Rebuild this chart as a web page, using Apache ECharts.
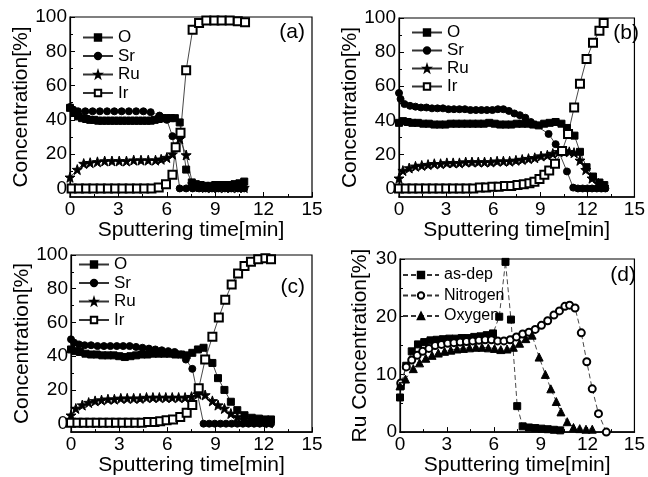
<!DOCTYPE html>
<html>
<head>
<meta charset="utf-8">
<title>Sputtering depth profiles</title>
<script src="https://cdn.jsdelivr.net/npm/echarts@6.0.0/dist/echarts.min.js"></script>
<style>
  html, body { margin: 0; padding: 0; background: #fff; }
  #chart { width: 648px; height: 477px; }
</style>
</head>
<body>
<div id="chart"></div>
<script>
// [time (min), concentration (%)]
const aO = [[0, 47], [0.25, 44], [0.5, 42], [0.75, 41], [1, 40.5], [1.25, 40], [1.5, 40], [1.75, 39.5], [2, 39.5], [2.25, 39.5], [2.5, 39.5], [2.75, 39.5], [3, 39.5], [3.25, 39.5], [3.5, 39.5], [3.75, 39.5], [4, 39.5], [4.25, 39.5], [4.5, 39.5], [4.75, 39.5], [5, 39.5], [5.25, 40], [5.5, 40.5], [5.75, 41], [6, 41], [6.25, 41], [6.5, 41], [6.8, 38.5], [7.2, 11], [7.55, 3.5], [7.8, 2.5], [8.1, 2], [8.4, 1.5], [8.7, 1.5], [9, 2], [9.3, 2], [9.6, 2], [9.9, 2], [10.2, 2.5], [10.5, 3], [10.8, 4]]
const aSr = [[0, 47.5], [0.2, 46], [0.5, 45], [0.95, 45], [1.4, 45], [1.85, 45], [2.3, 45], [2.75, 45], [3.2, 45], [3.65, 45], [4.1, 45], [4.55, 45], [5, 44.5], [5.55, 42.5], [6, 40], [6.35, 30.5], [6.8, 0], [7.2, 0], [7.6, 0], [8, 0], [8.4, 0], [8.8, 0], [9.2, 0], [9.6, 0], [10, 0], [10.4, 0], [10.8, 0]]
const aRu = [[0, 6.5], [0.45, 11], [0.85, 14.5], [1.25, 15], [1.7, 15.5], [2.15, 16], [2.6, 16], [3.05, 16], [3.5, 16], [3.95, 16.5], [4.4, 16.5], [4.85, 16.5], [5.3, 16.5], [5.65, 17], [6, 18], [6.35, 20], [6.8, 29], [7.2, 19.5], [7.6, 2.5], [8, 1], [8.4, 0.5], [8.8, 0.5], [9.2, 0.5], [9.6, 0.5], [10, 0.5], [10.4, 0.5], [10.8, 0.5]]
const aIr = [[0.1, 0], [0.55, 0], [1, 0], [1.45, 0], [1.9, 0], [2.35, 0], [2.8, 0], [3.25, 0], [3.7, 0], [4.15, 0], [4.6, 0], [5.05, 0], [5.5, 0.5], [5.95, 2.5], [6.35, 8], [6.55, 24], [6.85, 32.5], [7.2, 69], [7.6, 92.5], [8, 96.5], [8.45, 98], [8.95, 98], [9.4, 98], [9.9, 98], [10.4, 97.5], [10.85, 97]]

const bO = [[0, 38.5], [0.25, 39.5], [0.55, 39], [0.85, 38.5], [1.2, 38.5], [1.55, 38], [1.9, 38], [2.25, 37.5], [2.6, 37.5], [2.95, 37.5], [3.3, 38], [3.65, 38], [4, 38], [4.35, 38], [4.7, 38], [5.05, 38], [5.4, 38], [5.75, 38.5], [6.1, 38], [6.45, 37.5], [6.8, 37.5], [7.15, 37.5], [7.5, 38], [7.85, 38], [8.2, 38], [8.55, 37.5], [8.9, 37], [9.25, 38], [9.6, 38.5], [9.98, 39], [10.35, 38], [10.7, 35.5], [11.18, 31], [11.53, 21.5], [11.95, 12.5], [12.36, 7], [12.77, 3.5], [13.08, 2]]
const bSr = [[0, 56], [0.1, 52.5], [0.35, 49.5], [0.7, 48.5], [1.05, 48], [1.4, 47.5], [1.75, 47.5], [2.1, 47], [2.45, 47], [2.8, 47], [3.15, 46.5], [3.5, 46.5], [3.85, 46.5], [4.2, 46.5], [4.55, 46], [4.9, 46], [5.25, 46], [5.6, 46], [5.95, 46], [6.3, 46.5], [6.65, 46.5], [7, 45.5], [7.35, 44], [7.7, 43], [8.05, 41.5], [8.4, 39], [9.53, 32], [9.98, 26], [10.7, 10], [11.1, 0.5], [11.4, 0], [11.7, 0], [12, 0], [12.3, 0], [12.6, 0], [12.9, 0], [13.15, 0]]
const bRu = [[0, 6], [0.25, 10.5], [0.65, 12], [1.05, 13], [1.45, 13.5], [1.85, 14], [2.25, 14.5], [2.65, 14.5], [3.05, 15], [3.45, 15], [3.85, 15], [4.25, 15.5], [4.65, 15.5], [5.05, 15.5], [5.45, 15.5], [5.85, 15.5], [6.25, 16], [6.65, 16], [7.05, 16], [7.45, 16.5], [7.85, 17], [8.25, 17.5], [8.65, 18], [9.05, 19], [9.45, 19.5], [9.8, 20.5], [10.2, 21.5], [10.55, 22], [10.85, 21.5], [11.15, 21], [11.53, 16.5], [11.9, 11], [12.3, 6], [12.7, 3], [13.05, 1]]
const bIr = [[0, 0], [0.43, 0], [0.86, 0], [1.29, 0], [1.72, 0], [2.15, 0], [2.58, 0], [3.01, 0], [3.44, 0], [3.87, 0], [4.3, 0], [4.73, 0], [5.15, 0.5], [5.55, 0.5], [5.95, 1], [6.35, 1], [6.75, 1.5], [7.15, 1.5], [7.55, 2], [7.95, 2.5], [8.31, 3], [8.63, 4], [8.95, 5.5], [9.26, 8], [9.57, 10.5], [9.94, 14.5], [10.39, 22], [10.77, 32], [11.16, 47.5], [11.53, 61.5], [11.95, 76], [12.36, 85.5], [12.77, 92.5], [13.04, 97]]

const cO = [[0, 44], [0.25, 43], [0.55, 42.5], [0.9, 41.5], [1.25, 41], [1.6, 41], [1.95, 40.5], [2.3, 40.5], [2.65, 40.5], [3, 40], [3.35, 39.5], [3.7, 40], [4.05, 40.5], [4.4, 41], [4.75, 41], [5.1, 41.5], [5.45, 41.5], [5.8, 41.5], [6.15, 41.5], [6.5, 41], [6.85, 41], [7.2, 40.5], [7.55, 42], [7.9, 44], [8.25, 45], [8.8, 36], [9.15, 27], [9.55, 20], [9.95, 13], [10.35, 8], [10.8, 5], [11.25, 3.5], [11.7, 3], [12.1, 2.5], [12.45, 2.5]]
const cSr = [[0, 50], [0.2, 48], [0.5, 47], [0.85, 46.5], [1.25, 46.5], [1.65, 46], [2.05, 46], [2.45, 46], [2.85, 46], [3.25, 46], [3.65, 46], [4.05, 45.5], [4.45, 45], [4.85, 44.5], [5.25, 44], [5.65, 43.5], [6.05, 43], [6.45, 42.5], [6.85, 41], [7.15, 38], [7.55, 32.5], [8.25, 0], [8.6, 0], [8.95, 0], [9.3, 0], [9.65, 0], [10, 0], [10.35, 0], [10.7, 0], [11.05, 0], [11.4, 0], [11.75, 0], [12.1, 0], [12.45, 0]]
const cRu = [[0, 5], [0.3, 9], [0.7, 11], [1.1, 12.5], [1.5, 13.5], [1.9, 14], [2.3, 14.5], [2.7, 14.5], [3.1, 15], [3.5, 15], [3.9, 15], [4.3, 15], [4.7, 15.5], [5.1, 15.5], [5.5, 15.5], [5.9, 15.5], [6.3, 15.5], [6.7, 15.5], [7.1, 15.5], [7.5, 16], [7.9, 17.5], [8.35, 17], [8.8, 13.5], [9.15, 11], [9.55, 9], [9.95, 6], [10.35, 4], [10.75, 2.5], [11.15, 1.5], [11.55, 1], [11.95, 1], [12.35, 0.5]]
const cIr = [[0, 0.5], [0.4, 0.5], [0.8, 0.5], [1.2, 0.5], [1.6, 0.5], [2, 0.5], [2.4, 0.5], [2.8, 0.5], [3.2, 0.5], [3.6, 0.5], [4, 0.5], [4.4, 0.5], [4.8, 1], [5.2, 1], [5.55, 1.5], [5.95, 2], [6.35, 2.5], [6.8, 4], [7.2, 6.5], [7.55, 11], [7.95, 21], [8.35, 38], [8.8, 51.5], [9.2, 63], [9.6, 73.5], [10, 82.5], [10.4, 89], [10.8, 93.5], [11.2, 96], [11.65, 97.5], [12.1, 98], [12.45, 97.5]]

// Ru concentration by anneal condition
const dAsDep = [[0, 6], [0.05, 8], [0.4, 11.5], [0.75, 14], [1.15, 15.2], [1.55, 15.6], [1.95, 15.9], [2.35, 16], [2.75, 16.1], [3.15, 16.2], [3.55, 16.2], [3.95, 16.3], [4.35, 16.3], [4.75, 16.5], [5.15, 16.6], [5.55, 16.8], [5.95, 17.1], [6.35, 20], [6.75, 29.5], [7.1, 19.5], [7.5, 4.5], [7.85, 1], [8.25, 0.8], [8.65, 0.7], [9.05, 0.6], [9.45, 0.5], [9.85, 0.4], [10.25, 0.3]]
const dNitrogen = [[0.05, 8.5], [0.4, 11.3], [0.75, 12.5], [1.1, 13.3], [1.45, 14], [1.85, 14.5], [2.25, 15], [2.65, 15.2], [3.05, 15.4], [3.45, 15.5], [3.85, 15.6], [4.25, 15.7], [4.65, 15.8], [5.05, 15.9], [5.45, 16], [5.85, 16], [6.25, 15.8], [6.65, 15.8], [7.05, 16], [7.45, 16.5], [7.85, 17], [8.25, 17.3], [8.65, 17.8], [9.05, 18.5], [9.45, 19.3], [9.85, 20.3], [10.2, 21], [10.55, 21.8], [10.85, 22], [11.2, 21.5], [11.6, 17.2], [11.95, 12.2], [12.3, 7.5], [12.7, 3.2], [13.2, 0]]
const dOxygen = [[0, 8], [0.35, 9.2], [0.85, 11], [1.25, 12], [1.65, 12.8], [2.05, 13.3], [2.45, 13.7], [2.85, 14], [3.25, 14.2], [3.65, 14.4], [4.05, 14.5], [4.45, 14.6], [4.85, 14.7], [5.25, 14.7], [5.65, 14.6], [6.05, 14.5], [6.45, 14.3], [6.85, 14.4], [7.25, 14.7], [7.65, 15.4], [8.05, 16.2], [8.45, 16.8], [8.9, 13], [9.3, 10], [9.65, 7.5], [10, 5.3], [10.3, 3.5], [10.7, 1.8], [11.1, 0.8], [11.5, 0.6], [11.9, 0.5], [12.3, 0.5]]

const elements = ['O', 'Sr', 'Ru', 'Ir']
const anneals = ['as-dep', 'Nitrogen', 'Oxygen']
const panelLabels = ['(a)', '(b)', '(c)', '(d)']
const concTicks = [0, 20, 40, 60, 80, 100]
const concMinorTicks = [10, 30, 50, 70, 90]

const FONT = 'Liberation Sans, Arial, sans-serif'
const STAR = 'path://M0,-10L2.35,-3.24L9.51,-3.09L3.8,1.24L5.88,8.09L0,4L-5.88,8.09L-3.8,1.24L-9.51,-3.09L-2.35,-3.24Z'

const grids = [
  { left: 70, top: 17, width: 242, height: 180 },
  { left: 399, top: 18, width: 242, height: 179 },
  { left: 71, top: 255, width: 241, height: 178 },
  { left: 400, top: 259, width: 241, height: 177 }
]

const elemStyle = {
  O: { symbol: 'rect', symbolSize: 7 },
  Sr: { symbol: 'circle', symbolSize: 7 },
  Ru: { symbol: STAR, symbolSize: 10 },
  Ir: { symbol: 'emptyRect', symbolSize: 8 }
}
const annealStyle = {
  'as-dep': { symbol: 'rect', symbolSize: 7 },
  Nitrogen: { symbol: 'emptyCircle', symbolSize: 7 },
  Oxygen: { symbol: 'triangle', symbolSize: 8 }
}

function lineSeries (name, data, idx, style, dashed) {
  return {
    name: name,
    type: 'line',
    xAxisIndex: idx,
    yAxisIndex: idx * 2,
    data: data,
    symbol: style.symbol,
    symbolSize: style.symbolSize,
    showAllSymbol: true,
    animation: false,
    itemStyle: { color: '#000', borderColor: '#000', borderWidth: 1 },
    lineStyle: { color: '#333', width: 0.9, type: dashed ? [5, 3] : 'solid' }
  }
}

const chart = echarts.init(document.getElementById('chart'), null, { renderer: 'canvas' })

const xAxes = grids.map((g, i) => ({
  type: 'value',
  gridIndex: i,
  min: 0,
  max: 15,
  interval: 3,
  name: 'Sputtering time[min]',
  nameLocation: 'middle',
  nameGap: 21,
  nameTextStyle: { fontFamily: FONT, fontSize: 21, color: '#000' },
  axisLine: { onZero: false, lineStyle: { color: '#000', width: 1.6 } },
  axisTick: { inside: true, length: 5, lineStyle: { color: '#000' } },
  minorTick: { show: true, splitNumber: 2, length: 3, lineStyle: { color: '#000' } },
  axisLabel: { fontFamily: FONT, fontSize: 19, color: '#000', margin: 3 },
  splitLine: { show: false }
}))

const yAxes = []
grids.forEach((g, i) => {
  const isRu = i === 3
  yAxes.push({
    type: 'value',
    gridIndex: i,
    position: 'left',
    min: isRu ? 0 : -5,
    max: isRu ? 30 : 100,
    interval: isRu ? 10 : 20,
    name: isRu ? 'Ru Concentration[%]' : 'Concentration[%]',
    nameLocation: 'middle',
    nameGap: isRu ? 29 : 33,
    nameTextStyle: { fontFamily: FONT, fontSize: 21, color: '#000' },
    axisLine: { show: true, onZero: false, lineStyle: { color: '#000', width: 1.2 } },
    axisTick: isRu
      ? { inside: true, length: 5, lineStyle: { color: '#000' } }
      : { inside: true, length: 5, customValues: concTicks, lineStyle: { color: '#000' } },
    minorTick: { show: isRu, splitNumber: 2, length: 3, lineStyle: { color: '#000' } },
    axisLabel: isRu
      ? { fontFamily: FONT, fontSize: 19, color: '#000', margin: 3 }
      : { fontFamily: FONT, fontSize: 19, color: '#000', margin: 3, customValues: concTicks },
    splitLine: { show: false }
  })
  yAxes.push({
    type: 'value',
    gridIndex: i,
    position: 'left',
    min: isRu ? 0 : -5,
    max: isRu ? 30 : 100,
    axisLine: { show: false, onZero: false },
    axisTick: { show: !isRu, inside: true, length: 3, customValues: concMinorTicks, lineStyle: { color: '#000' } },
    axisLabel: { show: false },
    splitLine: { show: false }
  })
})

const series = []
const profiles = [[aO, aSr, aRu, aIr], [bO, bSr, bRu, bIr], [cO, cSr, cRu, cIr]]
profiles.forEach((sets, i) => {
  sets.forEach((d, k) => {
    series.push(lineSeries(elements[k], d, i, elemStyle[elements[k]], false))
  })
})
;[dAsDep, dNitrogen, dOxygen].forEach((d, k) => {
  series.push(lineSeries(anneals[k], d, 3, annealStyle[anneals[k]], true))
})

const legendText = { fontFamily: FONT, fontSize: 17, color: '#000' }
const legends = [
  { data: elements, left: 82, top: 29, itemGap: 1.5 },
  { data: elements, left: 411, top: 24, itemGap: 1 },
  { data: elements, left: 78, top: 256, itemGap: 1.5 },
  { data: anneals, left: 402, top: 267, itemGap: 4.5, itemWidth: 36, textStyle: Object.assign({}, legendText, { fontSize: 16 }) }
].map(l => Object.assign({
  orient: 'vertical',
  itemWidth: 30,
  itemHeight: 8,
  itemGap: 2,
  padding: 0,
  selectedMode: false,
  textStyle: legendText
}, l))

const titles = [
  { text: panelLabels[0], right: 343, top: 22 },
  { text: panelLabels[1], right: 9, top: 23 },
  { text: panelLabels[2], right: 343, top: 277 },
  { text: panelLabels[3], right: 12, top: 265 }
].map(t => Object.assign({
  padding: 0,
  textStyle: { fontFamily: FONT, fontSize: 21, fontWeight: 'normal', color: '#000' }
}, t))

chart.setOption({
  backgroundColor: '#fff',
  animation: false,
  title: titles,
  legend: legends,
  grid: grids.map(g => Object.assign({ show: true, borderColor: '#000', borderWidth: 1.2, containLabel: false }, g)),
  xAxis: xAxes,
  yAxis: yAxes,
  series: series
})
</script>
</body>
</html>
